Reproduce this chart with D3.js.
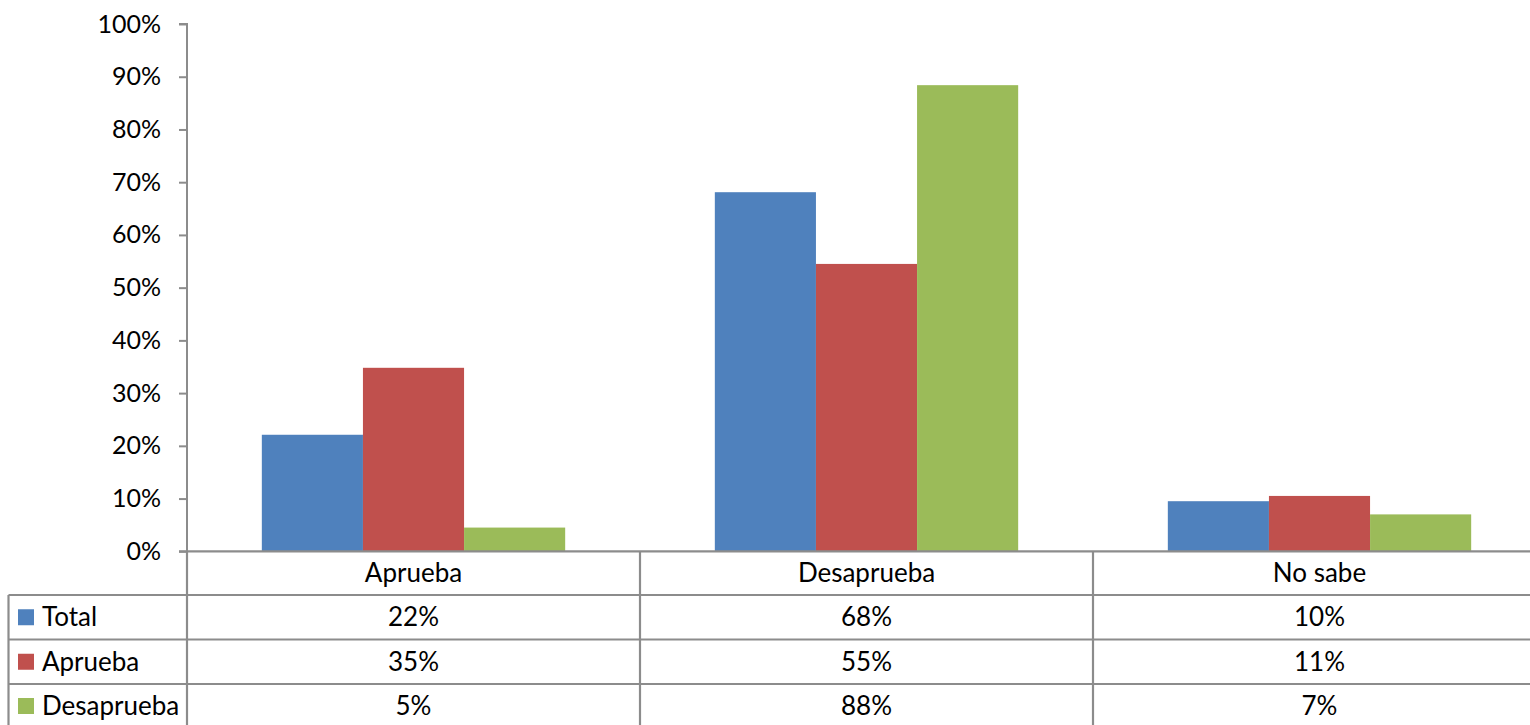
<!DOCTYPE html>
<html>
<head>
<meta charset="utf-8">
<script src="https://cdn.jsdelivr.net/npm/d3@7"></script>
<style>
  html, body { margin: 0; padding: 0; background: #fff; }
  svg { display: block; }
  text { font-family: Lato, "Open Sans", sans-serif; fill: #000; }
</style>
</head>
<body>
<svg id="chart" width="1530" height="725"></svg>
<script>
const categories = ["Aprueba", "Desaprueba", "No sabe"];
const seriesNames = ["Total", "Aprueba", "Desaprueba"];
const totalValues = [0.221, 0.681, 0.095];
const apruebaValues = [0.348, 0.545, 0.105];
const desapruebaValues = [0.045, 0.884, 0.070];
const totalLabels = ["22%", "68%", "10%"];
const apruebaLabels = ["35%", "55%", "11%"];
const desapruebaLabels = ["5%", "88%", "7%"];
const yTickValues = [0, 0.1, 0.2, 0.3, 0.4, 0.5, 0.6, 0.7, 0.8, 0.9, 1.0];
const colors = ["#4F81BD", "#C0504D", "#9BBB59"];

const seriesValues = [totalValues, apruebaValues, desapruebaValues];
const seriesLabels = [totalLabels, apruebaLabels, desapruebaLabels];

(function () {
const svg = d3.select("#chart");
const W = 1530;
const plotLeft = 187, plotTop = 24, plotBottom = 551.3;
const tableLeft = 8.5;
const rowLines = [551.3, 595, 639.5, 684, 728];
const gridColor = "#8c8c8c";
const fontSize = 26;
const axisFontSize = 25;

const x0 = d3.scaleBand().domain(categories).range([plotLeft, 1546]).padding(0);
const x1 = d3.scaleBand().domain(seriesNames).range([0, x0.bandwidth()]).paddingInner(0).paddingOuter(0.74);
const y = d3.scaleLinear().domain([0, 1]).range([plotBottom, plotTop]);

const g = svg.append("g");
categories.forEach((c, ci) => {
  seriesNames.forEach((s, si) => {
    const v = seriesValues[si][ci];
    g.append("rect")
      .attr("x", x0(c) + x1(s))
      .attr("y", y(v))
      .attr("width", x1.bandwidth())
      .attr("height", y(0) - y(v))
      .attr("fill", colors[si]);
  });
});

const yAxis = d3.axisLeft(y).tickValues(yTickValues).tickFormat(d3.format(".0%")).tickSize(8).tickPadding(18);
const ya = svg.append("g").attr("transform", `translate(${plotLeft},0)`).call(yAxis);
ya.select(".domain").attr("stroke", gridColor).attr("stroke-width", 2).attr("d", `M-8,${plotTop}H0V${plotBottom}`);
ya.selectAll(".tick line").attr("stroke", gridColor).attr("stroke-width", 2);
ya.selectAll(".tick text").attr("font-size", axisFontSize).attr("font-family", "Lato, 'Open Sans', sans-serif").attr("fill", "#000");

const lines = svg.append("g").attr("stroke", gridColor).attr("stroke-width", 2.2);
lines.append("line").attr("x1", plotLeft - 8).attr("x2", W).attr("y1", rowLines[0]).attr("y2", rowLines[0]);
for (let i = 1; i < 4; i++) {
  lines.append("line").attr("x1", tableLeft).attr("x2", W).attr("y1", rowLines[i]).attr("y2", rowLines[i]);
}
lines.append("line").attr("x1", tableLeft).attr("x2", tableLeft).attr("y1", rowLines[1]).attr("y2", 725);
lines.append("line").attr("x1", plotLeft).attr("x2", plotLeft).attr("y1", rowLines[0]).attr("y2", 725);
categories.forEach((c, ci) => {
  if (ci > 0) {
    lines.append("line").attr("x1", x0(c)).attr("x2", x0(c)).attr("y1", rowLines[0]).attr("y2", 725);
  }
});

const cx = c => x0(c) + x0.bandwidth() / 2;
const rowMid = i => (rowLines[i] + rowLines[i + 1]) / 2;
categories.forEach(c => {
  svg.append("text").attr("x", cx(c)).attr("y", rowMid(0)).attr("dy", "0.35em")
    .attr("text-anchor", "middle").attr("font-size", fontSize).text(c);
});

seriesNames.forEach((s, si) => {
  const ym = rowMid(si + 1);
  svg.append("rect").attr("x", 18).attr("y", ym - 8).attr("width", 16).attr("height", 16).attr("fill", colors[si]);
  svg.append("text").attr("x", 42).attr("y", ym).attr("dy", "0.35em").attr("font-size", fontSize).text(s);
  categories.forEach((c, ci) => {
    svg.append("text").attr("x", cx(c)).attr("y", ym).attr("dy", "0.35em")
      .attr("text-anchor", "middle").attr("font-size", fontSize).text(seriesLabels[si][ci]);
  });
});
})();
</script>
</body>
</html>
